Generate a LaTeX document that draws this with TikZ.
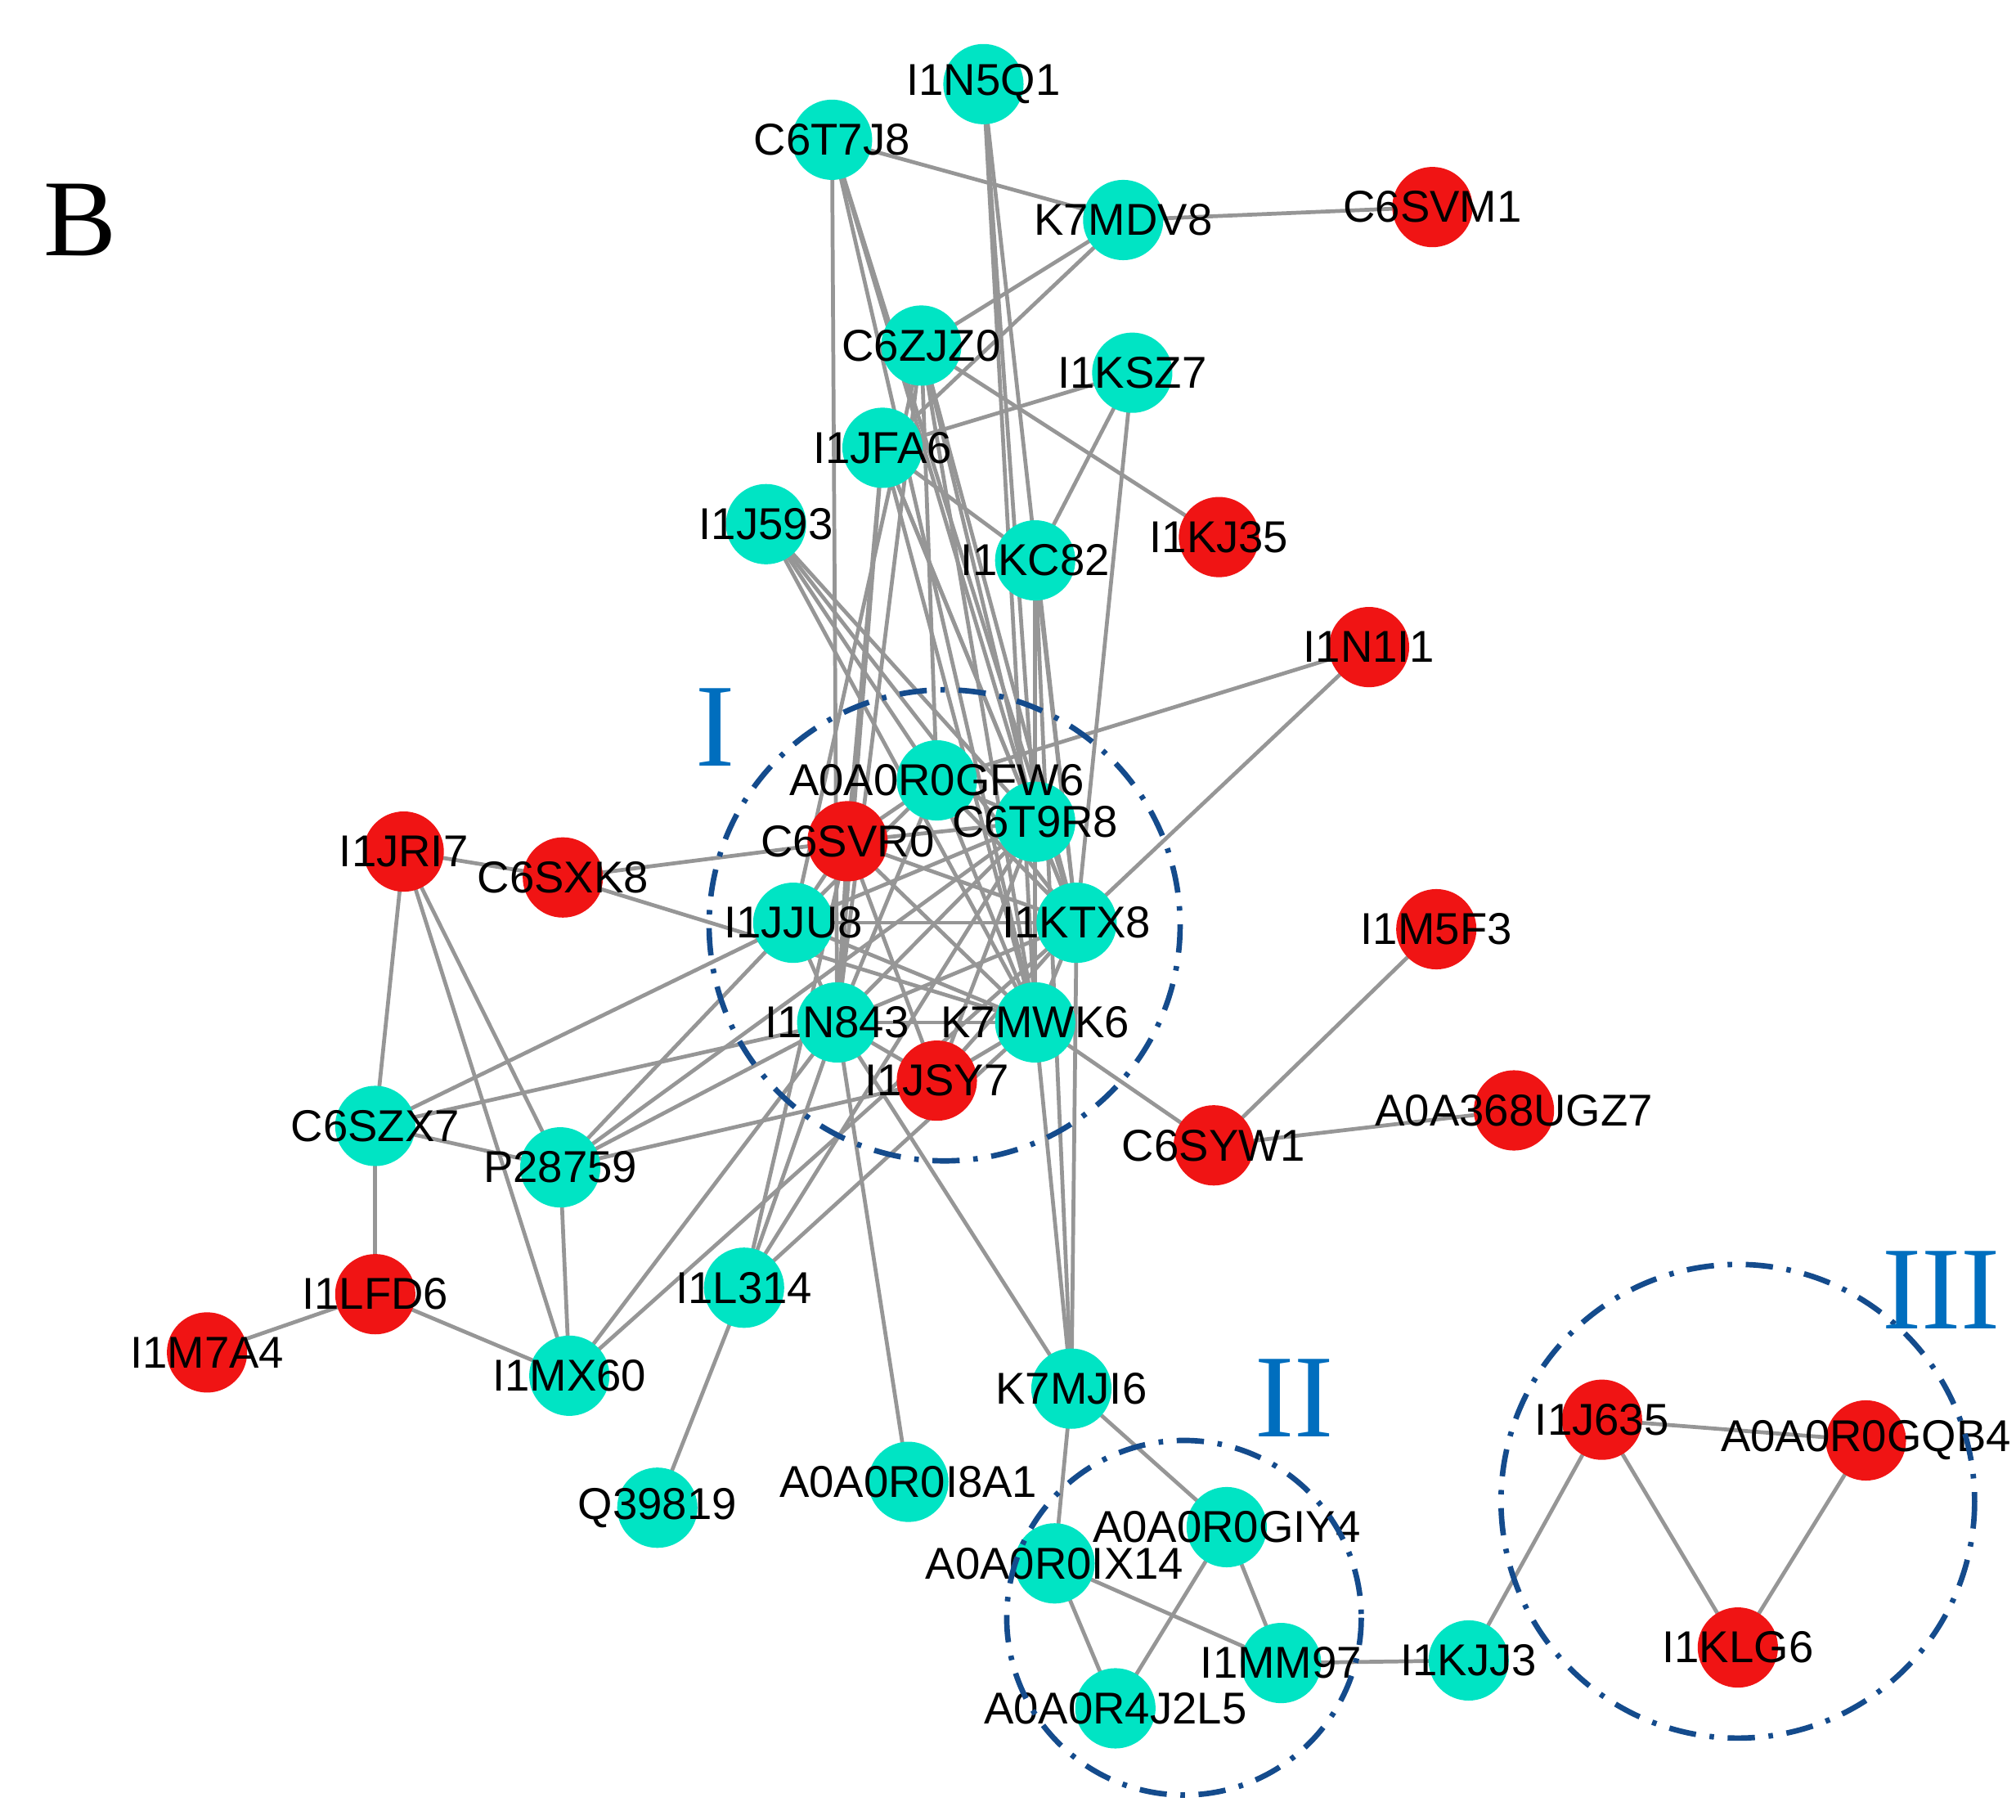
\documentclass[tikz,border=0pt]{standalone}
\usepackage{fontspec}
\setmainfont{Liberation Sans}
\newfontfamily\serifrm{Liberation Serif}
\definecolor{teal}{RGB}{0,228,196}
\definecolor{nred}{RGB}{240,20,20}
\definecolor{edge}{RGB}{150,150,150}
\definecolor{ring}{RGB}{20,75,140}
\definecolor{roman}{RGB}{0,110,190}
\begin{document}
\begin{tikzpicture}[x=0.01cm,y=-0.01cm,
  g/.style={circle,fill=teal,minimum size=0.62cm,inner sep=0pt},
  r/.style={circle,fill=nred,minimum size=0.62cm,inner sep=0pt},
  lab/.style={font=\fontsize{9.8}{9.8}\selectfont,inner sep=0pt},
  e/.style={draw=edge,line width=0.85pt},
  ringst/.style={draw=ring,line width=1.2pt,dash pattern=on 6pt off 3pt on 1pt off 3pt},
  rom/.style={text=roman,font=\serifrm\fontsize{26}{26}\selectfont}]
\useasboundingbox (0,0) rectangle (1558,1406);
\foreach \n/\x/\y in {
I1N5Q1/760/65, C6T7J8/643/108, K7MDV8/868/170, C6SVM1/1107/160,
C6ZJZ0/712/267, I1KSZ7/875/288, I1JFA6/682/346, I1J593/592/405,
I1KC82/800/433, I1KJ35/942/415, I1N1I1/1058/500, A0A0R0GFW6/724/603,
C6T9R8/800/635, C6SVR0/655/650, I1JRI7/312/658, C6SXK8/435/678,
I1JJU8/613/713, I1KTX8/832/713, I1M5F3/1110/718, I1N843/647/790,
K7MWK6/800/790, I1JSY7/724/835, C6SYW1/938/885, A0A368UGZ7/1170/858,
C6SZX7/290/870, P28759/433/902, I1LFD6/290/1000, I1M7A4/160/1045,
I1L314/575/995, I1MX60/440/1063, K7MJI6/828/1073, Q39819/508/1165,
A0A0R0I8A1/702/1145, A0A0R0GIY4/948/1180, A0A0R0IX14/815/1208,
I1MM97/990/1285, A0A0R4J2L5/862/1320, I1KJJ3/1135/1283,
I1J635/1238/1097, A0A0R0GQB4/1442/1113, I1KLG6/1343/1273}
  \coordinate (\n) at (\x,\y);
\foreach \a/\b in {
C6T7J8/K7MDV8, C6T7J8/I1N843, C6T7J8/C6T9R8, C6T7J8/K7MWK6, C6T7J8/I1KTX8,
I1N5Q1/I1KTX8, I1N5Q1/K7MWK6, I1N5Q1/C6T9R8,
K7MDV8/C6SVM1, K7MDV8/C6ZJZ0, K7MDV8/I1JFA6,
C6ZJZ0/I1KJ35, C6ZJZ0/I1N843, C6ZJZ0/I1JJU8, C6ZJZ0/K7MWK6, C6ZJZ0/I1KTX8, C6ZJZ0/C6T9R8, C6ZJZ0/A0A0R0GFW6,
I1KSZ7/I1JFA6, I1KSZ7/I1KC82, I1KSZ7/I1KTX8,
I1JFA6/I1N843, I1JFA6/C6SVR0, I1JFA6/I1KC82, I1JFA6/K7MWK6, I1JFA6/C6T9R8, I1JFA6/I1KTX8,
I1J593/A0A0R0GFW6, I1J593/C6T9R8, I1J593/I1KTX8, I1J593/K7MWK6,
I1KC82/K7MJI6, I1KC82/I1KTX8, I1KC82/K7MWK6,
I1N1I1/A0A0R0GFW6, I1N1I1/I1KTX8,
C6SXK8/I1JRI7, C6SXK8/C6SVR0, C6SXK8/K7MWK6,
I1JRI7/C6SZX7, I1JRI7/P28759, I1JRI7/I1MX60,
C6SZX7/I1LFD6, C6SZX7/P28759, C6SZX7/I1JJU8, C6SZX7/I1N843,
I1LFD6/I1M7A4, I1LFD6/I1MX60,
P28759/I1MX60, P28759/I1JJU8, P28759/C6T9R8, P28759/I1JSY7, P28759/I1N843,
I1MX60/I1KTX8, I1MX60/I1N843,
I1L314/Q39819, I1L314/I1N843, I1L314/C6SVR0, I1L314/K7MWK6, I1L314/C6T9R8,
A0A0R0I8A1/I1N843,
K7MJI6/I1N843, K7MJI6/I1KTX8, K7MJI6/K7MWK6, K7MJI6/A0A0R0GIY4, K7MJI6/A0A0R0IX14,
C6SYW1/I1M5F3, C6SYW1/A0A368UGZ7, C6SYW1/K7MWK6,
I1N843/K7MWK6, I1N843/I1KTX8, I1N843/C6T9R8, I1N843/A0A0R0GFW6, I1N843/C6SVR0, I1N843/I1JJU8, I1N843/I1JSY7,
K7MWK6/I1JJU8, K7MWK6/C6SVR0, K7MWK6/A0A0R0GFW6, K7MWK6/C6T9R8, K7MWK6/I1KTX8, K7MWK6/I1JSY7,
I1JJU8/I1KTX8, I1JJU8/C6T9R8, I1JJU8/A0A0R0GFW6, I1JJU8/C6SVR0,
C6SVR0/A0A0R0GFW6, C6SVR0/C6T9R8, C6SVR0/I1KTX8, C6SVR0/I1JSY7,
A0A0R0GFW6/C6T9R8, A0A0R0GFW6/I1KTX8, C6T9R8/I1KTX8, C6T9R8/I1JSY7, I1KTX8/I1JSY7,
A0A0R0IX14/A0A0R4J2L5, A0A0R0IX14/I1MM97, A0A0R0GIY4/I1MM97, A0A0R0GIY4/A0A0R4J2L5,
I1MM97/I1KJJ3, I1KJJ3/I1J635, I1J635/A0A0R0GQB4, I1J635/I1KLG6, A0A0R0GQB4/I1KLG6}
  \draw[e] (\a) -- (\b);
\foreach \n/\s in {
I1N5Q1/g, C6T7J8/g, K7MDV8/g, C6SVM1/r, C6ZJZ0/g, I1KSZ7/g, I1JFA6/g, I1J593/g,
I1KC82/g, I1KJ35/r, I1N1I1/r, A0A0R0GFW6/g, C6T9R8/g, C6SVR0/r, I1JRI7/r, C6SXK8/r,
I1JJU8/g, I1KTX8/g, I1M5F3/r, I1N843/g, K7MWK6/g, I1JSY7/r, C6SYW1/r, A0A368UGZ7/r,
C6SZX7/g, P28759/g, I1LFD6/r, I1M7A4/r, I1L314/g, I1MX60/g, K7MJI6/g, Q39819/g,
A0A0R0I8A1/g, A0A0R0GIY4/g, A0A0R0IX14/g, I1MM97/g, A0A0R4J2L5/g, I1KJJ3/g,
I1J635/r, A0A0R0GQB4/r, I1KLG6/r}
  \node[\s] (n\n) at (\n) {};
\foreach \n in {
I1N5Q1, C6T7J8, K7MDV8, C6SVM1, C6ZJZ0, I1KSZ7, I1JFA6, I1J593,
I1KC82, I1KJ35, I1N1I1, A0A0R0GFW6, C6T9R8, C6SVR0, I1JRI7, C6SXK8,
I1JJU8, I1KTX8, I1M5F3, I1N843, K7MWK6, I1JSY7, C6SYW1, A0A368UGZ7,
C6SZX7, P28759, I1LFD6, I1M7A4, I1L314, I1MX60, K7MJI6, Q39819,
A0A0R0I8A1, A0A0R0GIY4, A0A0R0IX14, I1MM97, A0A0R4J2L5, I1KJJ3,
I1J635, A0A0R0GQB4, I1KLG6}
  \node[lab] at (\n) {\n};
\draw[ringst] (730,715) circle [radius=182];
\draw[ringst] (915,1250) circle [radius=137];
\draw[ringst] (1343,1160) circle [radius=183];
\node[rom] (lI) at (553,562) {I};
\node[rom] (lII) at (1000,1080) {II};
\node[rom] (lIII) at (1500,997) {III};
\node[font=\serifrm\fontsize{24}{24}\selectfont] (lB) at (62,170) {B};
\end{tikzpicture}
\end{document}
